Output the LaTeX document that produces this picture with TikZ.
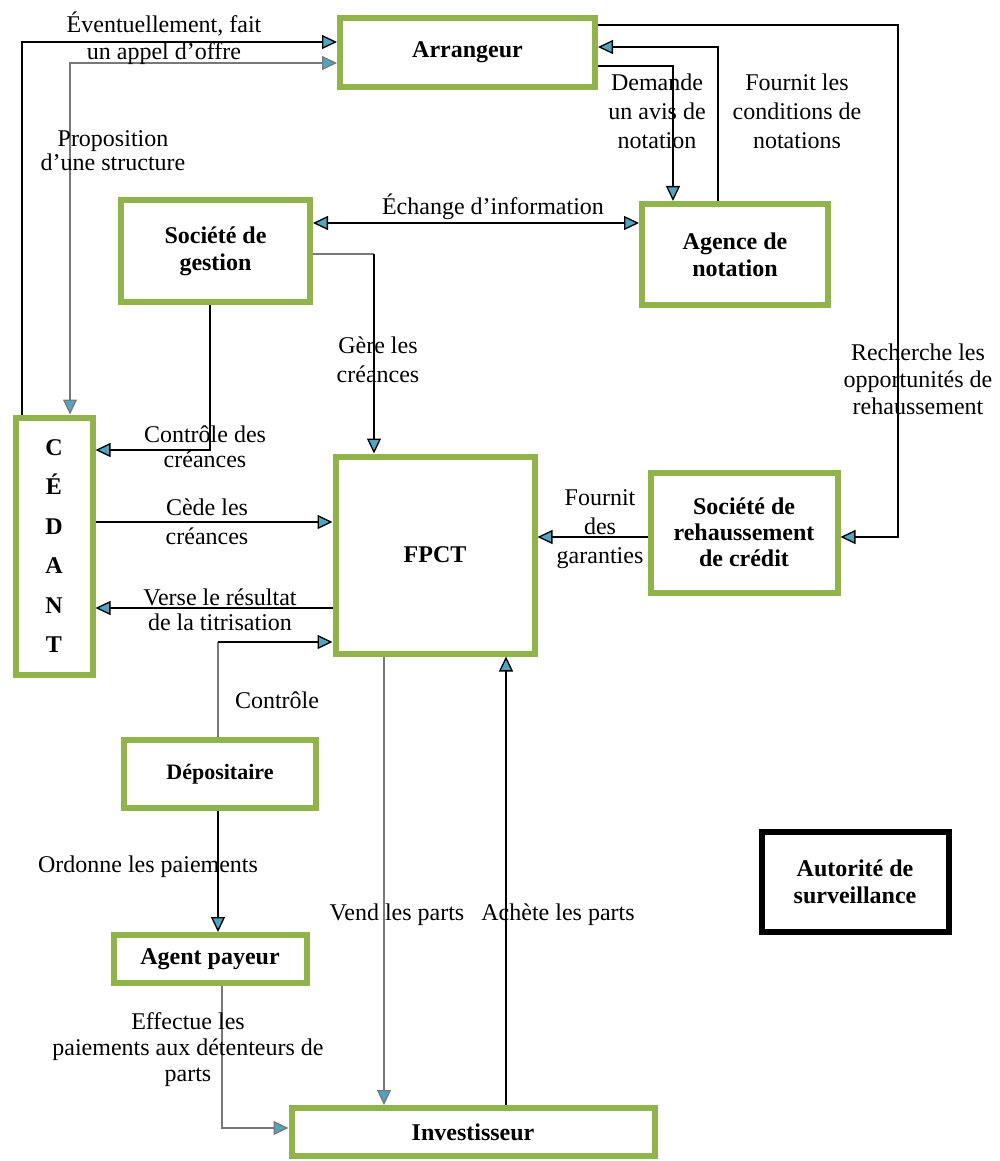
\documentclass[tikz,border=0pt]{standalone}
\usepackage{fontspec}
\setmainfont{Liberation Serif}
\usetikzlibrary{arrows.meta}
\definecolor{boxgreen}{RGB}{144,179,76}
\definecolor{tipblue}{RGB}{80,165,195}
\definecolor{linegrey}{RGB}{120,120,120}

\begin{document}
\begin{tikzpicture}[x=1pt,y=-1pt,
  every node/.style={font=\fontsize{24}{27}\selectfont, inner sep=0pt, align=center},
  box/.style={draw=boxgreen, line width=6pt, fill=white, font=\fontsize{24}{27}\selectfont\bfseries},
  blackbox/.style={draw=black, line width=6pt, fill=white, font=\fontsize{24}{27}\selectfont\bfseries},
  conn/.style={line width=1.3pt, draw=black},
  greyconn/.style={line width=1.3pt, draw=linegrey},
  >={Triangle[length=15pt,width=14pt,fill=tipblue]}]

\useasboundingbox (0,0) rectangle (999,1161);

% participants
\node[box, minimum width=255pt, minimum height=69pt] (arr) at (467.5,52.5) {Arrangeur};
\node[box, minimum width=189pt, minimum height=102pt] (ges) at (215.5,251) {Société de\\gestion};
\node[box, minimum width=186pt, minimum height=101pt] (age) at (735,254.5) {Agence de\\notation};
\node[box, minimum width=77pt, minimum height=257pt, font=\fontsize{24}{39.5}\selectfont\bfseries] (ced) at (54,546) {C\\É\\D\\A\\N\\T};
\node[box, minimum width=199pt, minimum height=197pt] (fpct) at (435,555) {FPCT};
\node[box, minimum width=187pt, minimum height=120pt, font=\fontsize{24}{26}\selectfont\bfseries] (reh) at (744,532.5) {Société de\\rehaussement\\de crédit};
\node[box, minimum width=192.5pt, minimum height=68pt, font=\fontsize{22}{26}\selectfont\bfseries] (dep) at (220,774) {Dépositaire};
\node[box, minimum width=193pt, minimum height=48pt] (pay) at (210,959) {Agent payeur};
\node[box, minimum width=363pt, minimum height=48pt] (inv) at (473,1132) {Investisseur};
\node[blackbox, minimum width=187pt, minimum height=100pt] (aut) at (855,881.5) {Autorité de\\surveillance};

% bend points of the connectors
\coordinate (kA) at (22,42);
\coordinate (kB) at (70,63);
\coordinate (kC) at (673,66);
\coordinate (kD) at (718,47);
\coordinate (kE) at (898,25);
\coordinate (kF) at (898,537);
\coordinate (kG) at (0,223);
\coordinate (kH) at (374,254);
\coordinate (kI) at (210,450);
\coordinate (kJ) at (0,522);
\coordinate (kK) at (0,608);
\coordinate (kL) at (218,642);
\coordinate (kM) at (222,1128);
\coordinate (kN) at (384,0);
\coordinate (kO) at (506,0);
\coordinate (kP) at (0,537);

% flows
\draw[conn,->] (ced.north -| kA) -- (kA) -- (arr.west |- kA);
\draw[greyconn,<->] (arr.west |- kB) -- (kB) -- (ced.north -| kB);
\draw[conn,->] (arr.east |- kC) -- (kC) -- (age.north -| kC);
\draw[conn,->] (age.north -| kD) -- (kD) -- (arr.east |- kD);
\draw[conn,->] (arr.east |- kE) -- (kE) -- (kF) -- (reh.east |- kF);
\draw[conn,<->] (ges.east |- kG) -- (age.west |- kG);
\draw[greyconn] (ges.east |- kH) -- (kH);
\draw[conn,->] (kH) -- (fpct.north -| kH);
\draw[conn,->] (ges.south -| kI) -- (kI) -- (ced.east |- kI);
\draw[conn,->] (ced.east |- kJ) -- (fpct.west |- kJ);
\draw[conn,->] (fpct.west |- kK) -- (ced.east |- kK);
\draw[conn,->] (reh.west |- kP) -- (fpct.east |- kP);
\draw[greyconn] (dep.north -| kL) -- (kL);
\draw[conn,->] (kL) -- (fpct.west |- kL);
\draw[conn,->] (dep.south -| kL) -- (pay.north -| kL);
\draw[greyconn,->] (pay.south -| kM) -- (kM) -- (inv.west |- kM);
\draw[greyconn,->] (fpct.south -| kN) -- (inv.north -| kN);
\draw[conn,->] (inv.north -| kO) -- (fpct.south -| kO);

% flow labels
\node (tA) at (164,38) {Éventuellement, fait\\un appel d’offre};
\node[font=\fontsize{24}{24}\selectfont] (tB) at (113,151) {Proposition\\d’une structure};
\node[font=\fontsize{24}{29}\selectfont] (tC) at (657,111) {Demande\\un avis de\\notation};
\node[font=\fontsize{24}{29}\selectfont] (tD) at (797,111) {Fournit les\\conditions de\\notations};
\node (tE) at (493,207) {Échange d’information};
\node[font=\fontsize{24}{29}\selectfont] (tF) at (378,360) {Gère les\\créances};
\node[font=\fontsize{24}{25}\selectfont] (tG) at (205,447) {Contrôle des\\créances};
\node[font=\fontsize{24}{29}\selectfont] (tH) at (207,522) {Cède les\\créances};
\node[font=\fontsize{24}{25}\selectfont] (tI) at (220,610) {Verse le résultat\\de la titrisation};
\node[font=\fontsize{24}{29}\selectfont] (tJ) at (600,529) {Fournit\\des\\garanties};
\node (tK) at (918,379) {Recherche les\\opportunités de\\rehaussement};
\node (tL) at (277,700) {Contrôle};
\node (tM) at (148,867) {Ordonne les paiements};
\node[font=\fontsize{24}{26}\selectfont] (tN) at (188,1050) {Effectue les\\paiements aux détenteurs de\\parts};
\node (tO) at (397,915) {Vend les parts};
\node (tP) at (558,915) {Achète les parts};
\end{tikzpicture}
\end{document}
